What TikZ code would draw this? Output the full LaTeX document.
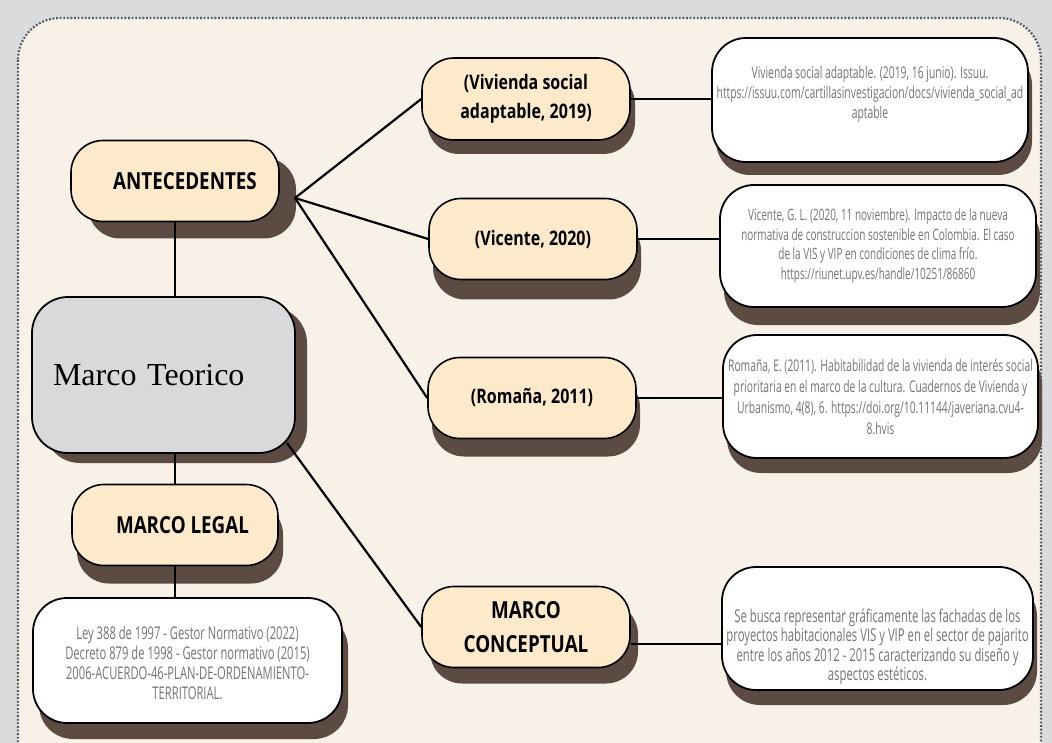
\documentclass[tikz,border=0pt]{standalone}
\usepackage{fontspec}
\setmainfont{Liberation Serif}
\newfontfamily\labelfont[FakeStretch=0.8]{Open Sans}
\newfontfamily\reffont[FakeStretch=0.64]{Open Sans}
\usetikzlibrary{shapes,shadows}
\definecolor{bggray}{HTML}{D9DBDC}
\definecolor{panelcream}{HTML}{F8F1E8}
\definecolor{peach}{HTML}{FCEACB}
\definecolor{boxgray}{HTML}{D8D9DB}
\definecolor{shadowbrown}{HTML}{5B4B43}
\definecolor{reftext}{HTML}{747474}
\definecolor{dotgray}{HTML}{535A5F}
\tikzset{
  dropsh/.style 2 args = {drop shadow={shadow xshift=#1pt, shadow yshift=-#2pt, fill=shadowbrown, opacity=1}},
  pill/.style     = {draw, line width=1.6pt, fill=peach, rounded corners=32pt,
                     minimum width=208pt, minimum height=81pt, align=center,
                     font=\labelfont\bfseries\fontsize{23.5}{34}\selectfont},
  midpill/.style  = {pill, font=\labelfont\bfseries\fontsize{20}{29}\selectfont},
  refbox/.style   = {draw, line width=1.8pt, fill=white, rounded corners=34pt,
                     minimum width=314pt, minimum height=123pt, align=center, text=reftext,
                     font=\reffont\fontsize{16}{20}\selectfont},
  mainbox/.style  = {draw, line width=1.8pt, fill=boxgray, rounded corners=36pt,
                     minimum width=263pt, minimum height=156pt, text width=221pt, align=left,
                     font=\fontsize{32}{36}\selectfont},
  link/.style     = {line width=2.2pt}
}

\begin{document}
\begin{tikzpicture}[x=1pt, y=-1pt]

\useasboundingbox (0,0) rectangle (1052,743);
\fill[bggray] (0,0) rectangle (1052,743);
\draw[dotgray, fill=panelcream, line width=2.2pt, dash pattern=on 1.8pt off 1.8pt, rounded corners=42pt] (18,18) rectangle (1041,782);

% Left column
\draw node [pill, dropsh={17}{17}, name=ant] at (175,181) {\hspace*{20pt}ANTECEDENTES};
\draw node [mainbox, dropsh={12}{10}, name=teo] at (163.5,375) {Marco Teorico};
\draw node [pill, dropsh={5}{18}, name=legal, minimum width=206pt] at (175,525) {\hspace*{15pt}MARCO LEGAL};
\draw node [refbox, dropsh={6}{16}, name=legref, minimum width=309pt, minimum height=125pt,
  font=\reffont\fontsize{17.5}{20}\selectfont] at (187.5,660.5)
  {\rule{0pt}{18pt}Ley 388 de 1997 - Gestor Normativo (2022)\\Decreto 879 de 1998 - Gestor normativo (2015)\\2006-ACUERDO-46-PLAN-DE-ORDENAMIENTO-\\TERRITORIAL.};

% Middle column
\draw node [midpill, dropsh={5}{14}, name=viv, minimum height=82pt] at (526,99) {(Vivienda social\\adaptable, 2019)};
\draw node [midpill, dropsh={4}{20}, name=vic] at (533,239) {(Vicente, 2020)};
\draw node [midpill, dropsh={4}{18}, name=rom] at (532,398) {(Romaña, 2011)};
\draw node [pill, dropsh={8}{16}, name=mc] at (526,627) {MARCO\\CONCEPTUAL};

% Right column
\draw node [refbox, dropsh={4}{13}, name=vivref, minimum width=316pt, minimum height=124pt,
  font=\reffont\fontsize{16.2}{20}\selectfont] at (870,100)
  {Vivienda social adaptable. (2019, 16 junio). Issuu.\\https://issuu.com/cartillasinvestigacion/docs/vivienda\_social\_ad\\aptable\rule[-16pt]{0pt}{1pt}};
\draw node [refbox, dropsh={4}{18}, name=vicref, minimum width=316pt, minimum height=122pt,
  font=\reffont\fontsize{15.6}{19.5}\selectfont] at (878,246)
  {Vicente, G. L. (2020, 11 noviembre). Impacto de la nueva\\normativa de construccion sostenible en Colombia. El caso\\de la VIS y VIP en condiciones de clima frío.\\https://riunet.upv.es/handle/10251/86860};
\draw node [refbox, dropsh={4}{15}, name=romref, minimum width=315pt, minimum height=123pt,
  font=\reffont\fontsize{16.1}{21}\selectfont] at (880.5,396.5)
  {Romaña, E. (2011). Habitabilidad de la vivienda de interés social\\prioritaria en el marco de la cultura. Cuadernos de Vivienda y\\Urbanismo, 4(8), 6. https://doi.org/10.11144/javeriana.cvu4-\\8.hvis};
\draw node [refbox, dropsh={4}{15}, name=mcref, minimum width=311pt,
  font=\reffont\fontsize{17.7}{19.5}\selectfont] at (877.5,628.5)
  {\rule{0pt}{50pt}Se busca representar gráficamente las fachadas de los\\proyectos habitacionales VIS y VIP en el sector de pajarito\\entre los años 2012 - 2015 caracterizando su diseño y\\aspectos estéticos.};

% Connections
\coordinate (hub) at (295,198);
\coordinate (tcorner) at (287,443);
\draw[link] (ant.south) -- (ant.south |- teo.north);
\draw[link] (legal.north |- teo.south) -- (legal.north);
\draw[link] (legal.south) -- (legal.south |- legref.north);
\draw[link] (hub) -- (viv.west);
\draw[link] (hub) -- (vic.west);
\draw[link] (hub) -- (rom.west);
\draw[link] (tcorner) -- (mc.west);
\draw[link] (viv.east) -- (viv.east -| vivref.west);
\draw[link] (vic.east) -- (vic.east -| vicref.west);
\draw[link] (rom.east) -- (rom.east -| romref.west);
\draw[link] (mc.-9) -- (mc.-9 -| mcref.west);

\end{tikzpicture}
\end{document}
